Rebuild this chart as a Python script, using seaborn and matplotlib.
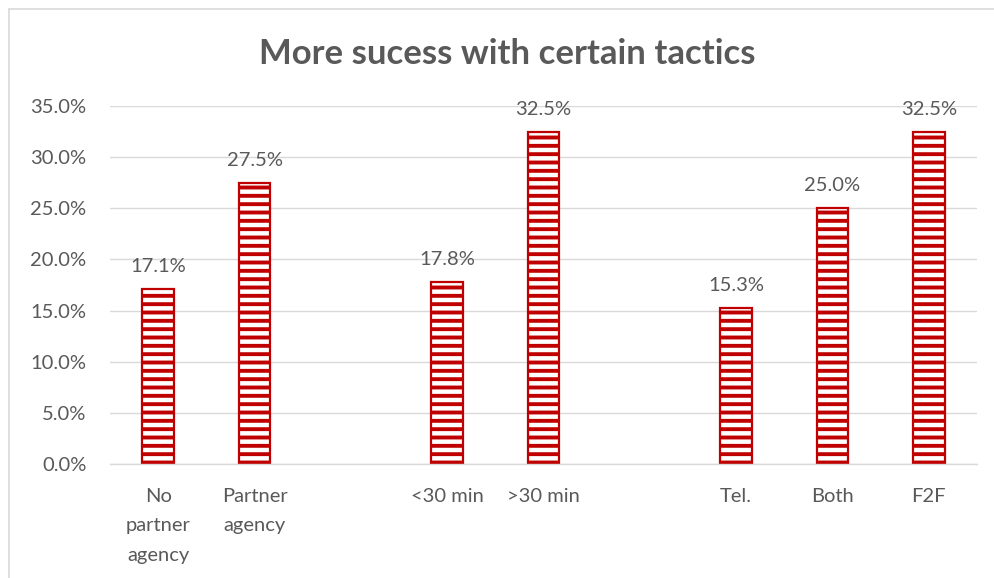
import matplotlib
matplotlib.use("Agg")
import matplotlib.pyplot as plt
from matplotlib.lines import Line2D
from matplotlib.ticker import FuncFormatter, MultipleLocator
import seaborn as sns
import pandas as pd

categories = ["No\npartner\nagency", "Partner\nagency", "<30 min", ">30 min", "Tel.", "Both", "F2F"]
values = [17.1, 27.5, 17.8, 32.5, 15.3, 25.0, 32.5]
order = ["No\npartner\nagency", "Partner\nagency", " ", "<30 min", ">30 min", "  ", "Tel.", "Both", "F2F"]
title = "More sucess with certain tactics"

sns.set_theme(style="white")
plt.rcParams['font.family'] = ['Lato', 'DejaVu Sans']
plt.rcParams['hatch.linewidth'] = 2.8
plt.rcParams['ytick.major.pad'] = 17
plt.rcParams['xtick.major.pad'] = 17
plt.rcParams['ytick.major.size'] = 0
plt.rcParams['xtick.major.size'] = 0

TEXT = "#595959"
RED = "#C00000"

df = pd.DataFrame({"cat": categories, "val": values})

fig = plt.figure(figsize=(9.94, 5.78), dpi=100)
ax = fig.add_axes([110/994, 1-464/578, (977-110)/994, (464-106)/578])

sns.barplot(data=df, x="cat", y="val", order=order, ax=ax, color="white",
            saturation=1, width=0.33, edgecolor=RED, linewidth=1.6, hatch="--")

ax.set_ylim(0, 35)
ax.set_xlim(-0.5, len(order) - 0.5)
ax.yaxis.set_major_locator(MultipleLocator(5))
ax.yaxis.set_major_formatter(FuncFormatter(lambda v, p: f"{v:.1f}%"))
ax.grid(axis="y", color="#D9D9D9", linewidth=1)
ax.set_axisbelow(True)
for s in ["top", "right", "left"]:
    ax.spines[s].set_visible(False)
ax.spines["bottom"].set_color("#D9D9D9")
ax.spines["bottom"].set_linewidth(1)
ax.set_xlabel("")
ax.set_ylabel("")
ax.tick_params(axis="x", length=0, labelsize=14.5, colors=TEXT, pad=17)
ax.tick_params(axis="y", length=0, labelsize=14.5, colors=TEXT, pad=17)
for lab in ax.get_xticklabels():
    lab.set_linespacing(1.9)
    lab.set_va("top")

for c in ax.containers:
    ax.bar_label(c, fmt=lambda v: f"{v:.1f}%", padding=10, fontsize=14.5, color=TEXT)

fig.text(0.51, 1-54/578, title, ha="center", va="center", fontsize=25,
         fontweight="bold", color=TEXT)

# outer chart border
fig.add_artist(Line2D([9/994, 1], [1-8.5/578, 1-8.5/578], transform=fig.transFigure, color="#D9D9D9", linewidth=1.2))
fig.add_artist(Line2D([9/994, 9/994], [0, 1-8.5/578], transform=fig.transFigure, color="#D9D9D9", linewidth=1.2))

fig.savefig("out.png", dpi=100)
